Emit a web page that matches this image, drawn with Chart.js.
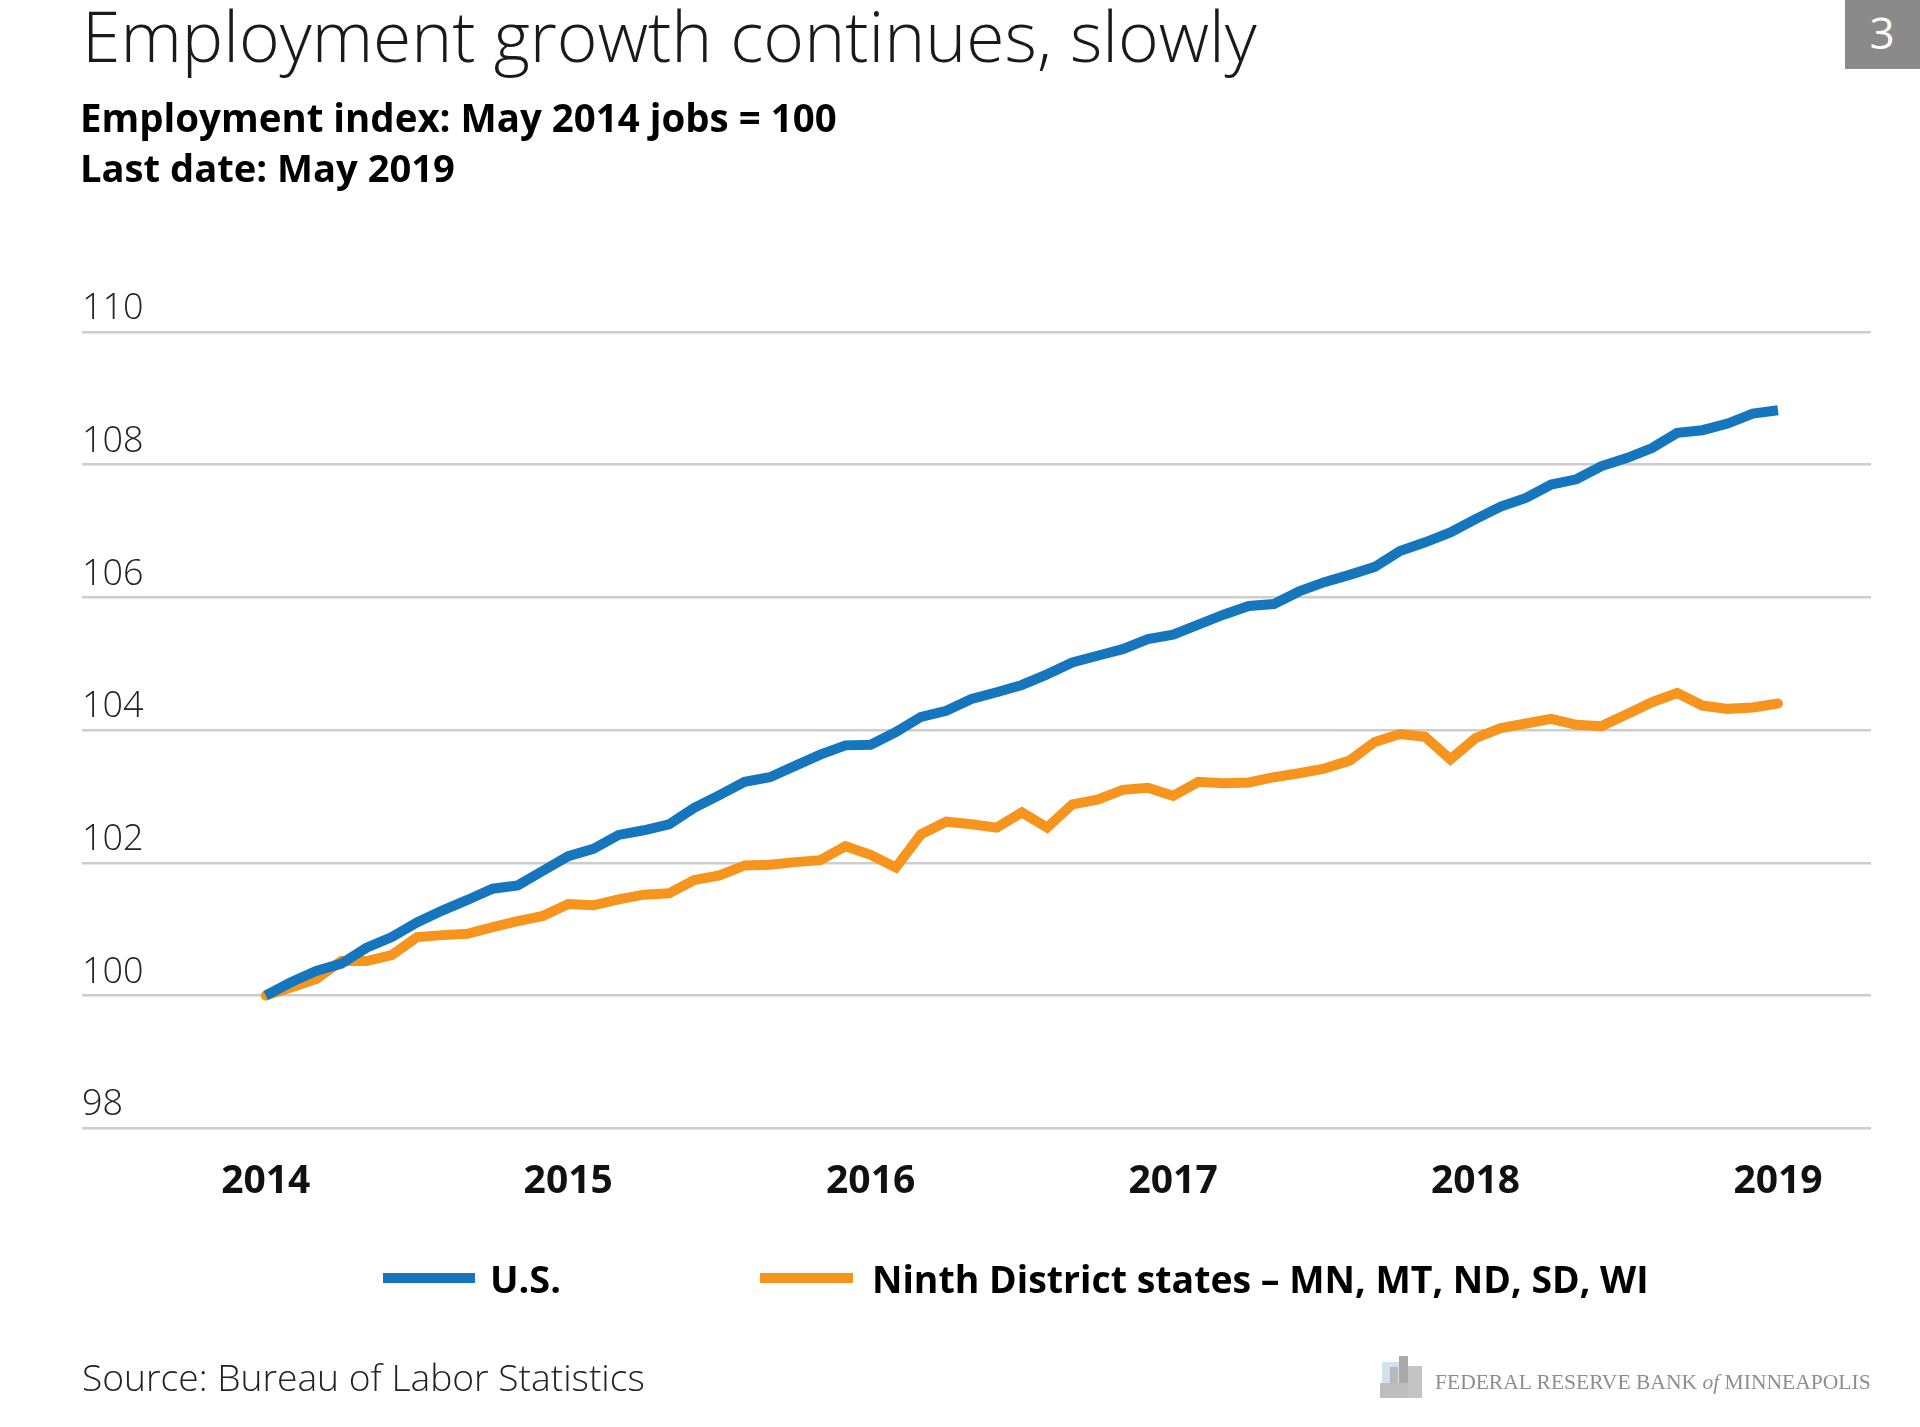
<!DOCTYPE html>
<html>
<head>
<meta charset="utf-8">
<script src="https://cdn.jsdelivr.net/npm/chart.js@4.4.1/dist/chart.umd.min.js"></script>
<style>
html,body{margin:0;padding:0;background:#fff;}
body{width:1920px;height:1427px;position:relative;overflow:hidden;font-family:'Open Sans','Noto Sans',sans-serif;}
canvas{position:absolute;left:0;top:0;}
.t{position:absolute;white-space:nowrap;line-height:1;margin:0;}
#title{font-weight:300;color:#1a1a1a;}
.sub{font-weight:700;color:#000;}
.leg{font-weight:700;color:#000;}
#source{font-weight:300;color:#222;}
#logo{font-family:'Liberation Serif','DejaVu Serif',serif;color:#8e8e8e;}
#logo i{font-style:italic;}
#badge{position:absolute;left:1845px;top:0;width:75px;height:69px;background:#8a8a8a;}
#num{color:#fff;font-weight:400;}
.lbox{position:absolute;height:10px;}
.bld{position:absolute;}
</style>
</head>
<body>
<canvas id="c" width="1920" height="1427" style="width:1920px;height:1427px"></canvas>

<div id="title" class="t" data-x="82" data-w="1175" data-base="62">Employment growth continues, slowly</div>
<div class="t sub" data-x="80" data-w="757" data-base="132">Employment index: May 2014 jobs = 100</div>
<div class="t sub" data-x="80" data-w="375" data-base="182">Last date: May 2019</div>

<div id="badge"></div>
<div id="num" class="t" data-cx="1882" data-fs="44" data-base="49">3</div>

<div class="lbox" style="left:383px;top:1273px;width:92px;background:#1576BE"></div>
<div class="t leg" data-x="490" data-w="71" data-base="1293">U.S.</div>
<div class="lbox" style="left:760px;top:1273px;width:93px;background:#F7941E"></div>
<div class="t leg" data-x="872" data-w="777" data-base="1293">Ninth District states – MN, MT, ND, SD, WI</div>

<div id="source" class="t" data-x="82" data-w="563" data-base="1391">Source: Bureau of Labor Statistics</div>

<div class="bld" style="left:1382px;top:1362px;width:26px;height:22px;background:#cfe3ef"></div>
<div class="bld" style="left:1399px;top:1356px;width:9px;height:42px;background:#a9a9a9"></div>
<div class="bld" style="left:1390px;top:1367px;width:8px;height:31px;background:#b9b9b9"></div>
<div class="bld" style="left:1408px;top:1366px;width:14px;height:32px;background:#c4c4c4"></div>
<div class="bld" style="left:1380px;top:1383px;width:28px;height:15px;background:#bdbdbd"></div>
<div id="logo" class="t" data-x="1435" data-w="436" data-base="1389">FEDERAL RESERVE BANK <i>of</i> MINNEAPOLIS</div>

<script>
// ---- data ----
const monthNames = ['Jan','Feb','Mar','Apr','May','Jun','Jul','Aug','Sep','Oct','Nov','Dec'];
const months = [];
for (let k = 0; k < 61; k++) { const m = 4 + k; months.push(monthNames[m % 12] + ' ' + (2014 + Math.floor(m / 12))); }
const yearTicks = ['2014','2015','2016','2017','2018','2019'];
const yTicks = [98,100,102,104,106,108,110];
const seriesNames = ['U.S.', 'Ninth District states – MN, MT, ND, SD, WI'];
const usIndex = [
  100.00,100.20,100.37,100.48,100.72,100.88,101.10,101.28,101.44,101.61,
  101.66,101.88,102.10,102.21,102.42,102.49,102.58,102.83,103.02,103.22,
  103.29,103.46,103.63,103.77,103.78,103.97,104.20,104.29,104.47,104.57,
  104.68,104.84,105.02,105.12,105.22,105.37,105.44,105.59,105.74,105.87,
  105.90,106.09,106.23,106.34,106.46,106.70,106.83,106.98,107.18,107.37,
  107.50,107.70,107.78,107.98,108.10,108.25,108.48,108.52,108.62,108.77,
  108.82
];
const ninthIndex = [
  100.00,100.12,100.25,100.52,100.52,100.61,100.88,100.91,100.93,101.03,
  101.12,101.20,101.38,101.36,101.45,101.52,101.54,101.74,101.81,101.96,
  101.97,102.01,102.04,102.25,102.12,101.93,102.43,102.62,102.58,102.53,
  102.76,102.53,102.88,102.95,103.10,103.13,103.01,103.22,103.20,103.21,
  103.29,103.35,103.42,103.54,103.82,103.94,103.90,103.56,103.88,104.03,
  104.10,104.17,104.08,104.06,104.24,104.42,104.56,104.37,104.32,104.34,
  104.40
];

// ---- text fitting ----
function place(el){
  if (el.dataset.w) {
    el.style.fontSize = '100px';
    const w100 = el.getBoundingClientRect().width;
    el.style.fontSize = (100 * (+el.dataset.w) / w100) + 'px';
  } else if (el.dataset.fs) {
    el.style.fontSize = el.dataset.fs + 'px';
  }
  const mk = document.createElement('span');
  mk.style.cssText = 'display:inline-block;width:0;height:0;vertical-align:baseline';
  el.appendChild(mk);
  el.style.top = '0px';
  const b = mk.offsetTop;
  el.style.top = ((+el.dataset.base) - b) + 'px';
  if (el.dataset.cx) {
    el.style.left = ((+el.dataset.cx) - el.getBoundingClientRect().width / 2) + 'px';
  } else {
    el.style.left = el.dataset.x + 'px';
  }
}

const xTickIdx = yearTicks.map(y => months.indexOf('May ' + y));

function build(){
  document.querySelectorAll('.t').forEach(place);
  new Chart(document.getElementById('c'), {
    type: 'line',
    data: {
      datasets: [
        { label: seriesNames[0], data: usIndex.map((v, i) => ({x: i, y: v})),
          borderColor: '#1576BE', backgroundColor: '#1576BE', borderWidth: 10,
          pointRadius: 0, tension: 0, fill: false },
        { label: seriesNames[1], data: ninthIndex.map((v, i) => ({x: i, y: v})),
          borderColor: '#F7941E', backgroundColor: '#F7941E', borderWidth: 10,
          pointRadius: 0, tension: 0, fill: false, borderCapStyle: 'round' }
      ]
    },
    options: {
      responsive: false,
      devicePixelRatio: 1,
      animation: false,
      layout: { padding: { left: 82, right: 49, top: 332, bottom: 192 } },
      plugins: { legend: { display: false }, tooltip: { enabled: false }, title: { display: false } },
      scales: {
        x: {
          type: 'linear', min: -7.29, max: 63.69,
          afterBuildTicks: s => { s.ticks = xTickIdx.map(v => ({ value: v })); },
          grid: { display: false, drawTicks: false },
          border: { display: false },
          ticks: {
            callback: v => yearTicks[xTickIdx.indexOf(v)],
            font: { family: "'Open Sans'", size: 39, weight: '700' },
            color: '#111', padding: 30, maxRotation: 0, autoSkip: false
          }
        },
        y: {
          min: 98, max: 110,
          afterBuildTicks: s => { s.ticks = yTicks.map(v => ({ value: v })); },
          grid: { color: '#cdcdcd', lineWidth: 2.5, drawTicks: false },
          border: { display: false },
          ticks: {
            mirror: true, padding: 0, labelOffset: -23,
            font: { family: "'Open Sans'", size: 36, weight: '300' },
            color: '#222'
          }
        }
      }
    }
  });
}
Promise.all([
  document.fonts.load('300 36px "Open Sans"'),
  document.fonts.load('700 39px "Open Sans"')
]).catch(()=>{}).then(() => document.fonts.ready).then(build);
</script>
</body>
</html>
